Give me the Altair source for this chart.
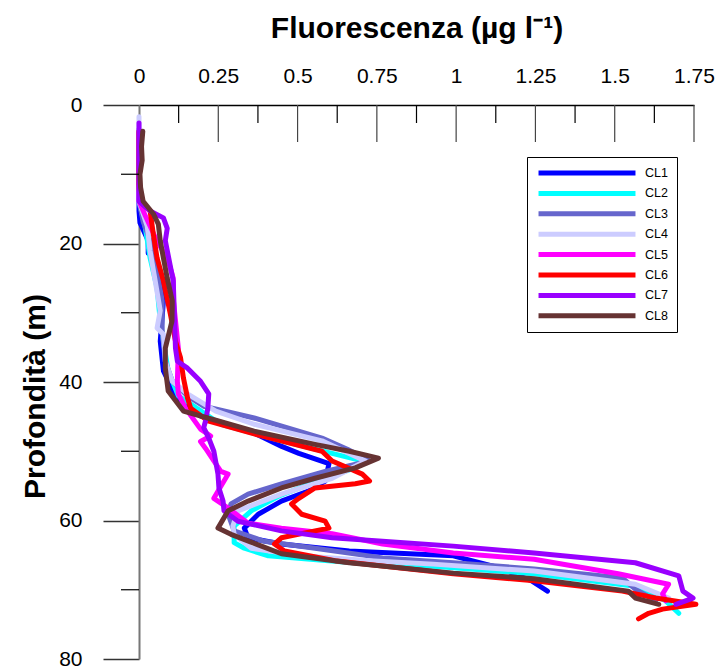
import altair as alt
import pandas as pd

series_names = ["CL1", "CL2", "CL3", "CL4", "CL5", "CL6", "CL7", "CL8"]
series_colors = ["#0000FF", "#00FFFF", "#6666CC", "#CCCCFF", "#FF00FF", "#FF0000", "#9900FF", "#663333"]

cl1_depth = [5, 7, 15.3, 17, 19.6, 21.4, 21.8, 24.7, 28.3, 34.1, 38.4, 42.0, 44.9, 47.3, 49.3, 50.3, 51.8, 54.3, 55.7, 57.2, 59.1, 61.1, 62.5, 63.4, 64.4, 65.1, 66.9, 68.7, 70.2]
cl1_value = [0.0, 0.0, 0.0, 0.003, 0.029, 0.029, 0.051, 0.067, 0.077, 0.067, 0.077, 0.115, 0.194, 0.36, 0.45, 0.504, 0.599, 0.587, 0.536, 0.449, 0.376, 0.332, 0.344, 0.449, 0.663, 0.991, 1.141, 1.237, 1.288]

cl2_depth = [3.8, 13.9, 17.5, 22.1, 26.4, 31.2, 34.1, 38.4, 42.0, 46.1, 48.5, 50.3, 51.4, 52.4, 54.0, 56.5, 58.6, 60.8, 63.2, 64.0, 65.1, 66.1, 66.6, 67.7, 69.5, 71.6, 73.4]
cl2_value = [0.0, 0.0, 0.019, 0.035, 0.057, 0.067, 0.077, 0.092, 0.124, 0.258, 0.449, 0.609, 0.704, 0.682, 0.577, 0.44, 0.354, 0.30, 0.30, 0.332, 0.408, 0.673, 0.928, 1.246, 1.565, 1.661, 1.702]

cl3_depth = [3.5, 13.9, 16.8, 19.6, 24.0, 28.3, 32.6, 37.0, 39.9, 42.0, 43.5, 45.2, 48.1, 49.7, 51.4, 52.9, 54.7, 56.2, 57.6, 59.1, 61.5, 63.0, 64.0, 65.4, 66.1, 67.0, 68.3, 69.9, 71.6]
cl3_value = [0.0, 0.0, 0.013, 0.035, 0.057, 0.073, 0.073, 0.083, 0.105, 0.153, 0.204, 0.363, 0.577, 0.657, 0.727, 0.587, 0.449, 0.344, 0.290, 0.281, 0.300, 0.395, 0.555, 0.768, 0.991, 1.246, 1.524, 1.565, 1.629]

cl4_depth = [1.7, 6.6, 13.9, 17.5, 21.1, 25.4, 29.7, 32.2, 33.1, 37.0, 39.9, 41.7, 44.2, 46.1, 48.5, 51.4, 53.9, 56.2, 58.6, 60.8, 62.0, 64.0, 65.1, 65.8, 66.3, 67.3, 69.2, 71.2]
cl4_value = [0.0, 0.0, 0.0, 0.026, 0.035, 0.051, 0.067, 0.057, 0.077, 0.083, 0.105, 0.153, 0.242, 0.363, 0.577, 0.714, 0.609, 0.449, 0.312, 0.296, 0.300, 0.354, 0.513, 0.727, 0.928, 1.246, 1.565, 1.670]

cl5_depth = [4.0, 13.9, 16.0, 19.0, 22.5, 25.0, 28.0, 35.1, 39.9, 41.7, 43.8, 46.8, 47.8, 48.6, 49.6, 52.9, 53.3, 56.8, 58.2, 60.4, 61.1, 61.9, 63.4, 64.7, 65.6, 67.7, 69.2, 70.6, 71.6]
cl5_value = [0.0, 0.0, 0.02, 0.05, 0.092, 0.108, 0.108, 0.124, 0.121, 0.124, 0.147, 0.194, 0.226, 0.194, 0.21, 0.258, 0.281, 0.236, 0.281, 0.344, 0.449, 0.609, 0.768, 0.991, 1.246, 1.511, 1.670, 1.651, 1.661]

cl6_depth = [3.8, 11.4, 13.9, 15.3, 18.6, 22.1, 25.4, 30.2, 34.1, 36.5, 39.4, 42.3, 43.8, 45.6, 47.5, 50.0, 51.4, 53.3, 54.3, 54.7, 55.3, 56.8, 57.6, 59.1, 60.1, 61.1, 61.5, 62.5, 63.4, 64.4, 65.8, 66.9, 67.7, 68.7, 70.2, 71.2, 72.1, 72.8, 73.4, 74.2]
cl6_value = [0.0, 0.0, 0.003, 0.035, 0.045, 0.057, 0.077, 0.099, 0.115, 0.131, 0.140, 0.153, 0.163, 0.217, 0.363, 0.577, 0.609, 0.704, 0.727, 0.682, 0.555, 0.504, 0.481, 0.513, 0.587, 0.599, 0.555, 0.449, 0.427, 0.459, 0.618, 0.832, 0.991, 1.246, 1.524, 1.629, 1.756, 1.651, 1.607, 1.575]

cl7_depth = [2.6, 13.9, 15.3, 16.3, 17.8, 19.6, 25.4, 35.1, 37.0, 38.0, 39.9, 41.7, 43.8, 45.6, 46.6, 48.1, 50.0, 53.3, 55.3, 57.2, 58.6, 60.1, 61.5, 62.5, 63.0, 63.7, 64.7, 66.1, 68.0, 70.2, 71.2, 72.1]
cl7_value = [0.0, 0.0, 0.035, 0.077, 0.089, 0.083, 0.108, 0.115, 0.121, 0.153, 0.194, 0.220, 0.217, 0.210, 0.204, 0.220, 0.236, 0.249, 0.252, 0.265, 0.268, 0.312, 0.449, 0.609, 0.768, 0.991, 1.246, 1.565, 1.702, 1.715, 1.747, 1.693]

cl8_depth = [3.8, 6.0, 8.0, 10.0, 11.9, 13.9, 15.7, 17.2, 19.6, 22.1, 25.0, 28.3, 31.2, 35.1, 38.0, 41.3, 44.2, 45.2, 47.1, 49.0, 50.0, 51.0, 52.4, 53.9, 55.3, 57.2, 58.6, 61.1, 62.0, 64.8, 66.1, 67.6, 68.4, 70.2, 71.2, 72.1]
cl8_value = [0.012, 0.008, 0.01, 0.003, 0.005, 0.013, 0.045, 0.061, 0.067, 0.077, 0.089, 0.105, 0.104, 0.083, 0.083, 0.092, 0.140, 0.217, 0.363, 0.555, 0.663, 0.755, 0.682, 0.555, 0.449, 0.344, 0.281, 0.249, 0.290, 0.449, 0.663, 0.991, 1.246, 1.543, 1.565, 1.639]

x_label_values = [0, 0.25, 0.5, 0.75, 1, 1.25, 1.5, 1.75]
x_major_ticks = [0.25, 0.5, 0.75, 1, 1.25, 1.5, 1.75]
x_minor_ticks = [0.125, 0.375, 0.625, 0.875, 1.125, 1.375, 1.625]
y_major_ticks = [0, 20, 40, 60, 80]
y_minor_ticks = [10, 30, 50, 70]

depths = [cl1_depth, cl2_depth, cl3_depth, cl4_depth, cl5_depth, cl6_depth, cl7_depth, cl8_depth]
values = [cl1_value, cl2_value, cl3_value, cl4_value, cl5_value, cl6_value, cl7_value, cl8_value]

rows = []
for name, d, v in zip(series_names, depths, values):
    for i, (dd, vv) in enumerate(zip(d, v)):
        rows.append({"serie": name, "depth": dd, "val": vv, "idx": i})
df = pd.DataFrame(rows)

FONT = "Liberation Sans"
x_scale = alt.Scale(domain=[0, 1.75], nice=False, zero=False)
y_scale = alt.Scale(domain=[0, 80], reverse=True, nice=False, zero=False)

lines = alt.Chart(df).mark_line(strokeWidth=5, strokeJoin="round", strokeCap="round").encode(
    x=alt.X("val:Q", scale=x_scale, axis=alt.Axis(
        orient="top", values=x_label_values, format=".3~g", ticks=False, tickSize=0,
        domainColor="black", domainWidth=1.5, labelPadding=19, labelFontSize=21,
        labelFont=FONT, labelColor="black", labelFlush=False, labelOverlap=False,
        title="Fluorescenza (µg l⁻¹)", titleX=277.5, titleY=-77, titleBaseline="middle",
        titleAlign="center", titleFontSize=30, titleFontWeight="bold", titleFont=FONT,
        titleColor="black", grid=False)),
    y=alt.Y("depth:Q", scale=y_scale, axis=alt.Axis(
        values=y_major_ticks, format="d", tickSize=36, tickColor="#333", tickWidth=1.5,
        domainColor="#777", domainWidth=2, labelPadding=21, labelFontSize=21,
        labelFont=FONT, labelColor="black", labelFlush=False, labelOverlap=False,
        title="Profondità (m)", titleX=-104, titleY=291, titleAngle=270,
        titleBaseline="middle", titleAlign="center", titleFontSize=30,
        titleFontWeight="bold", titleFont=FONT, titleColor="black", grid=False)),
    color=alt.Color("serie:N", scale=alt.Scale(domain=series_names, range=series_colors),
                    legend=alt.Legend(title=None, orient="none", legendX=388, legendY=52,
                                      symbolType="stroke", symbolSize=9400, symbolStrokeWidth=5,
                                      clipHeight=14, rowPadding=6.4,
                                      labelFontSize=12.5, labelFont=FONT, labelColor="black",
                                      fillColor="white", strokeColor="black", padding=9,
                                      labelOffset=7)),
    order=alt.Order("idx:Q"),
)

xt_major = alt.Chart(pd.DataFrame({"val": x_major_ticks})).mark_rule(color="#444", strokeWidth=1.2).encode(
    x="val:Q", y=alt.value(0), y2=alt.value(37))
xt_minor = alt.Chart(pd.DataFrame({"val": x_minor_ticks})).mark_rule(color="black", strokeWidth=1.2).encode(
    x="val:Q", y=alt.value(0), y2=alt.value(18))
yt_minor = alt.Chart(pd.DataFrame({"depth": y_minor_ticks})).mark_rule(color="black", strokeWidth=1.2).encode(
    y="depth:Q", x=alt.value(-18), x2=alt.value(0))

chart = alt.layer(lines, xt_major, xt_minor, yt_minor).properties(
    width=555, height=554,
    autosize=alt.AutoSizeParams(type="none"),
    padding={"left": 139, "top": 105, "right": 29, "bottom": 12},
    background="white",
).configure_view(stroke=None)

chart.save("out.html", embed_options={"renderer": "svg", "actions": False})
